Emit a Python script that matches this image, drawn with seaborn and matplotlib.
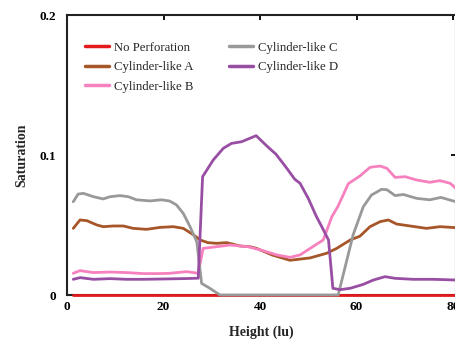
import numpy as np
import pandas as pd
import matplotlib
matplotlib.use("Agg")
import matplotlib.pyplot as plt
import seaborn as sns
from matplotlib.lines import Line2D

series_names = ["No Perforation", "Cylinder-like A", "Cylinder-like B",
                "Cylinder-like C", "Cylinder-like D"]
series_colors = ["#E41A1C", "#A65628", "#F781BF", "#999999", "#984EA3"]

x_none = [1.3, 80.6]
y_none = [0.0, 0.0]

x_a = [1.3, 2.7, 4.1, 6.2, 7.5, 9.6, 11.7, 13.7, 16.5, 19.3, 22, 24.1, 26.2, 27.6,
       29.2, 31, 33.1, 35.9, 37.9, 39.3, 42.5, 46.2, 50.4, 53.8, 55.9, 58.7, 60.7,
       62.8, 64.9, 66.6, 68.3, 71.1, 74.5, 77.3, 80.6]
y_a = [.0476, .0536, .0531, .050, .0488, .0493, .0493, .0476, .0469, .0483, .0488,
       .0476, .043, .0393, .0374, .0369, .0374, .035, .0345, .0333, .0286, .0248,
       .0265, .0298, .0333, .0393, .042, .0488, .0524, .0536, .0507, .0493, .0476,
       .0488, .0481]

x_b = [1.3, 2.7, 5.5, 8.9, 12.4, 15.8, 19.3, 21.3, 24.8, 27.2, 28.2, 31, 33.8, 37.5,
       40.2, 43.5, 46.2, 48.3, 50.4, 53.1, 54.9, 56.2, 58.3, 60.7, 62.8, 64.9, 66.3,
       68, 70.1, 72.5, 75.2, 77.3, 79.4, 80.6]
y_b = [.0155, .0174, .016, .0164, .016, .0153, .0153, .0155, .0167, .0155, .0333,
       .0345, .0357, .0345, .0321, .0286, .0269, .0286, .0333, .0393, .056, .0636,
       .0795, .085, .0912, .0921, .0905, .084, .0845, .0821, .0805, .0817, .0798,
       .0762]

x_c = [1.3, 2.3, 3.4, 5.5, 7.5, 8.9, 11, 12.7, 14.4, 17.2, 19.6, 21.3, 22.7, 24.1,
       25.5, 26.9, 27.9, 29.6, 31.7, 56.2, 59.3, 61.4, 63.1, 65.2, 66.3, 68, 69.7,
       72.5, 75.2, 77.5, 80.6]
y_c = [.0666, .0721, .0726, .0702, .0686, .0702, .071, .0702, .068, .0672, .068,
       .0671, .0643, .0583, .0488, .038, .0083, .0048, 0, 0, .043, .063, .0714,
       .0755, .0752, .071, .0718, .069, .068, .0697, .0666]

x_d = [1.3, 2.7, 5.5, 8.9, 12.4, 15.8, 19.3, 24.1, 27.2, 28.1, 30.3, 32.4, 34.1,
       36.2, 39.2, 41.4, 43.3, 45.3, 47.2, 48.3, 50, 51.7, 52.8, 54.2, 55.1, 56.6,
       58.7, 61.4, 63.5, 65.9, 68, 71.8, 75.9, 80.6]
y_d = [.0112, .0124, .0112, .0117, .0112, .0112, .0114, .0117, .012, .0845, .0964,
       .1048, .1083, .1095, .1138, .1065, .1006, .0917, .0827, .0798, .069, .056,
       .0488, .0393, .0048, .0038, .0048, .0076, .0107, .0131, .0119, .0112, .0112,
       .0107]

x_ticks = [0, 20, 40, 60, 80]
y_ticks = [0, 0.1, 0.2]
y_tick_labels = ["0", "0.1", "0.2"]

frames = []
for name, xs, ys in zip(series_names, [x_none, x_a, x_b, x_c, x_d],
                        [y_none, y_a, y_b, y_c, y_d]):
    frames.append(pd.DataFrame({"Height": xs, "Saturation": ys, "series": name}))
df = pd.concat(frames, ignore_index=True)

sns.set_style("white")
plt.rcParams["font.family"] = ["Liberation Serif", "DejaVu Serif"]

fig = plt.figure(figsize=(4.56, 3.43), dpi=100)
ax = fig.add_axes([67 / 456, 1 - 295 / 343, 1 - 67 / 456, 280 / 343])

sns.lineplot(data=df, x="Height", y="Saturation", hue="series",
             hue_order=series_names, palette=series_colors,
             estimator=None, sort=False, linewidth=2.0, ax=ax, legend=False)
for ln in ax.lines:
    ln.set_clip_on(False)
    ln.set_zorder(3)

ax.set_xlim(0, 80.62)
ax.set_ylim(0, 0.2)
ax.set_xticks(x_ticks)
ax.set_xticklabels([str(t) for t in x_ticks])
ax.set_yticks(y_ticks)
ax.set_yticklabels(y_tick_labels)
for lab in ax.get_xticklabels() + ax.get_yticklabels():
    lab.set_fontweight("bold")
ax.tick_params(direction="in", length=3.5, width=1.3, top=True, right=True,
               labelsize=9.5, colors="black")
ax.tick_params(axis="y", pad=8)
ax.tick_params(axis="x", pad=4)
for sp in ax.spines.values():
    sp.set_visible(True)
    sp.set_linewidth(1.5)
    sp.set_color("#222222")

ax.set_xlabel("Height (lu)", fontsize=10, fontweight="bold", labelpad=9)
ax.set_ylabel("Saturation", fontsize=10, fontweight="bold", labelpad=8)

handles = [Line2D([0], [0], color=c, lw=2.5) for c in series_colors]
ax.legend(handles, series_names, loc="upper left", bbox_to_anchor=(0.046, 0.905),
          ncol=2, frameon=False, fontsize=9.2, borderpad=0, borderaxespad=0,
          handlelength=1.9, handletextpad=0.35, labelspacing=0.6, columnspacing=2.8)

fig.savefig("out.png", dpi=100)
